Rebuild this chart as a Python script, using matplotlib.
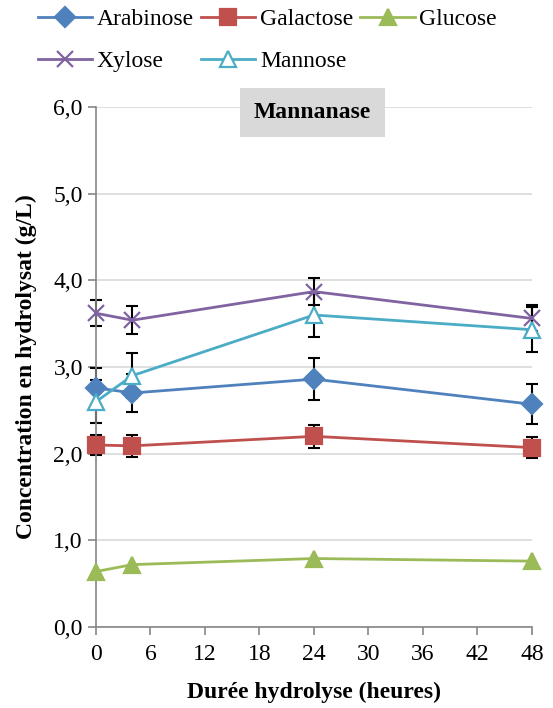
import matplotlib
matplotlib.use('Agg')
import matplotlib.pyplot as plt
from matplotlib.ticker import FuncFormatter

plt.rcParams['font.family'] = ['Liberation Serif', 'DejaVu Serif']

hours = [0, 4, 24, 48]

arabinose = [2.76, 2.70, 2.86, 2.57]
arabinose_err = [0.23, 0.22, 0.24, 0.23]
galactose = [2.10, 2.09, 2.20, 2.07]
galactose_err = [0.12, 0.13, 0.13, 0.12]
glucose = [0.64, 0.72, 0.79, 0.76]
xylose = [3.62, 3.54, 3.87, 3.56]
xylose_err = [0.15, 0.16, 0.16, 0.15]
mannose = [2.60, 2.90, 3.60, 3.43]
mannose_err = [0.25, 0.26, 0.25, 0.26]

x_ticks = [0, 6, 12, 18, 24, 30, 36, 42, 48]
y_ticks = [0, 1, 2, 3, 4, 5, 6]

fig = plt.figure(figsize=(5.53, 7.08), dpi=100)
ax = fig.add_axes([0.1736, 0.1144, 0.7884, 0.7345])

series = [
    ("Arabinose", arabinose, arabinose_err, "#4F81BD", "D", "#4F81BD", 10),
    ("Xylose", xylose, xylose_err, "#8064A2", "x", "#8064A2", 12),
    ("Galactose", galactose, galactose_err, "#C0504D", "s", "#C0504D", 11),
    ("Mannose", mannose, mannose_err, "#4BACC6", "^", "white", 11),
    ("Glucose", glucose, None, "#9BBB59", "^", "#9BBB59", 11),
]

handles = []
for name, vals, err, col, mk, fc, ms in series:
    if err is not None:
        ax.errorbar(hours, vals, yerr=err, fmt='none', ecolor='black',
                    elinewidth=1.5, capsize=4, capthick=1.5, zorder=2)
    line, = ax.plot(hours, vals, color=col, marker=mk, markersize=ms,
                    markerfacecolor=fc, markeredgecolor=col,
                    markeredgewidth=1.6, linewidth=2, label=name, zorder=3)
    handles.append(line)

ax.set_xlim(0, 48)
ax.set_ylim(0, 6)
ax.set_xticks(x_ticks)
ax.set_yticks(y_ticks)
ax.yaxis.set_major_formatter(FuncFormatter(lambda v, p: f"{v:.1f}".replace(".", ",")))
ax.grid(axis='y', color='#D9D9D9', linewidth=1.2)
ax.set_axisbelow(True)
for ln in ax.lines:
    ln.set_clip_on(False)
for c in ax.collections:
    c.set_clip_on(False)

for s in ['top', 'right']:
    ax.spines[s].set_visible(False)
for s in ['left', 'bottom']:
    ax.spines[s].set_color('#868686')
    ax.spines[s].set_linewidth(1.2)
ax.tick_params(axis='both', colors='#868686', labelcolor='black',
               labelsize=17, length=6, width=1.2)
ax.tick_params(axis='x', pad=6)

ax.set_xlabel("Durée hydrolyse (heures)", fontsize=17, fontweight='bold', labelpad=12)
ax.set_ylabel("Concentration en hydrolysat (g/L)", fontsize=17, fontweight='bold', labelpad=12)

ax.text(0.497, 0.99, "Mannanase", transform=ax.transAxes, ha='center', va='center',
        fontsize=17, fontweight='bold',
        bbox=dict(boxstyle='square,pad=0.6', facecolor='#D9D9D9', edgecolor='none'))

fig.legend(handles=handles, loc='upper left', bbox_to_anchor=(0.030, 1.018), ncol=3,
           frameon=False, fontsize=17, handlelength=2.3, handletextpad=0.2,
           columnspacing=0.3, labelspacing=0.88)

fig.savefig('out.png', dpi=100)
